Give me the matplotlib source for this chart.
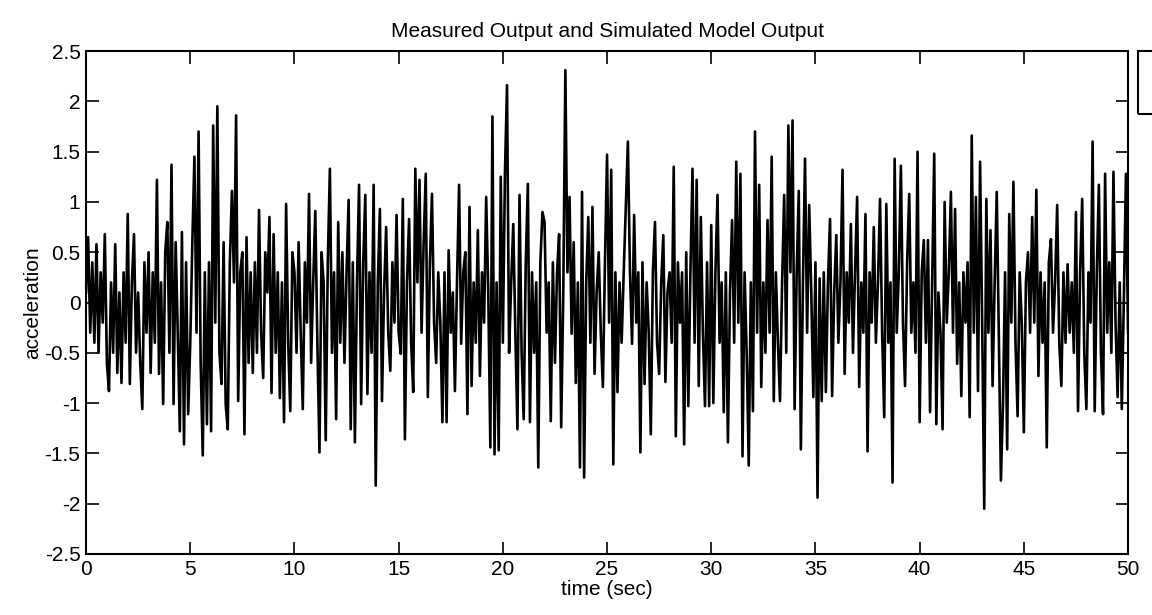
import numpy as np
import matplotlib
matplotlib.use("Agg")
import matplotlib.pyplot as plt
from matplotlib.patches import Rectangle

plt.rcParams['font.family'] = ['Liberation Sans', 'DejaVu Sans']

# acceleration, one value every 0.1 s (rows = 1 s)
acc = [
    0.1, 0.65, -0.3, 0.4, -0.4, 0.58, -0.5, 0.3, -0.2, 0.68,
    -0.6, -0.88, 0.2, -0.5, 0.58, -0.7, 0.1, -0.8, 0.3, -0.4,
    0.88, -0.81, 0.2, 0.68, -0.5, 0.1, -0.6, -1.06, 0.4, -0.3,
    0.5, -0.7, 0.3, -0.4, 1.22, -0.71, 0.2, -1.01, 0.5, 0.8,
    -0.5, 1.37, -1.01, 0.6, -0.3, -1.28, 0.7, -1.41, 0.4, -1.11,
    -0.4, 0.6, 1.45, -0.3, 1.70, -0.6, -1.52, 0.3, -1.21, 0.4,
    -1.28, 1.76, -0.2, 1.95, -0.5, -0.81, 0.6, -1.01, -1.26, 0.4,
    1.11, 0.2, 1.86, -0.98, 0.3, 0.5, -1.31, 0.65, -0.6, 0.3,
    -0.7, 0.4, -0.5, 0.92, -0.3, -0.75, 0.5, 0.1, 0.85, -0.9,
    0.68, -0.5, 0.3, -0.95, 0.2, -1.19, 0.98, -0.4, -1.08, 0.5,
    0.3, -0.5, 0.6, -0.3, -1.06, 0.4, -0.2, 1.08, -0.6, 0.2,
    0.91, -0.4, -1.49, 0.5, 0.2, -1.37, 0.4, 1.33, -0.5, 0.3,
    -1.16, 0.8, -0.4, 0.5, -0.6, 0.3, 1.02, -1.26, 0.4, -1.39,
    0.2, 1.17, -1.01, 0.4, 1.07, -0.91, 0.3, -0.5, 1.17, -1.82,
    0.2, 0.93, -0.98, 0.1, 0.75, -0.3, -0.68, 0.4, -0.2, 0.87,
    -0.3, -0.51, 1.03, -1.36, 0.2, 0.83, -0.4, -0.89, 1.33, 0.2,
    1.22, -0.3, 0.6, 1.28, -0.94, 0.4, 1.08, -0.2, -0.6, 0.3,
    -0.2, -1.19, 0.3, -1.19, 0.52, -0.3, 0.1, -0.88, 0.2, 1.17,
    -0.41, 0.3, 0.5, -1.11, 0.95, -0.83, 0.2, -0.4, 0.72, -0.73,
    0.3, -0.2, 1.05, 0.1, -1.44, 1.85, -1.51, 0.2, -1.47, 1.25,
    -0.4, 1.28, 2.16, -0.5, 0.2, 0.78, -0.3, -1.26, 1.07, -0.5,
    -1.16, 0.4, 1.18, -1.19, 0.3, -0.5, 0.2, -1.64, 0.4, 0.9,
    0.8, -0.3, 0.2, -1.18, 0.4, -0.6, 0.3, 0.68, -1.24, 0.1,
    2.31, 0.3, 1.05, -0.31, 0.6, -0.8, 0.2, -1.64, 1.1, -1.74,
    0.2, 0.85, -0.4, 0.95, -0.71, 0.1, 0.5, -0.3, -0.84, 0.4,
    1.47, -0.2, 1.32, -1.61, 0.3, -0.89, 0.2, -0.4, 0.3, 0.95,
    1.6, 0.3, -0.41, 0.87, -0.2, 0.3, -1.49, 0.4, -0.81, 0.2,
    -0.3, -1.31, 0.3, 0.8, -0.4, -0.71, 0.2, 0.67, -0.79, 0.1,
    0.3, -0.4, 1.35, -1.33, 0.4, -0.2, 0.3, -1.41, 0.5, -1.03,
    0.3, 1.33, -0.4, 1.22, -0.83, 0.85, -0.3, -1.03, 0.4, -1.03,
    0.77, -1.0, 0.3, 1.07, -0.4, 0.2, -1.09, 0.3, -1.39, 0.1,
    0.82, -0.4, 1.40, -0.2, 1.28, -1.53, 0.3, -0.5, -1.62, 0.2,
    -1.08, 1.70, -0.3, 1.17, -0.84, 0.2, -0.5, 0.82, -0.3, 1.45,
    -0.98, 0.3, -0.4, -0.98, 0.2, 1.07, -0.5, 1.76, 0.3, 1.81,
    -1.06, 0.3, 1.11, -1.46, 0.2, 1.43, -0.3, 0.97, 0.1, -0.94,
    0.4, -1.94, 0.24, -0.98, 0.3, -0.89, 0.2, 0.83, -0.93, 0.1,
    0.67, -0.4, 0.2, 1.32, -0.71, 0.3, -0.2, 0.78, -0.5, 0.3,
    1.05, -0.84, 0.2, -0.3, 0.88, -1.48, 0.3, -0.2, 0.75, -0.4,
    0.2, 1.03, -0.3, -1.14, 0.98, -0.4, 0.2, -1.79, 1.43, -0.3,
    0.3, 1.36, -0.2, -0.83, 0.4, 1.08, -0.3, 0.2, -0.5, 1.5,
    -1.19, 0.3, 0.62, -0.4, 0.62, -1.09, 0.2, 1.48, -1.21, 0.1,
    -0.3, -1.26, 1.0, -0.2, 0.3, 1.1, -0.3, 0.93, -0.61, 0.2,
    -0.93, 0.3, -0.2, 0.4, -1.14, 1.66, -0.3, 1.05, -0.88, 1.40,
    -0.2, -2.05, 1.03, -0.3, 0.72, -0.83, 0.2, 1.1, -0.3, -1.77,
    -1.0, 0.3, -1.46, 0.88, -0.2, 1.2, -0.4, -1.13, 0.3, -0.2,
    -1.29, 0.2, 0.50, -0.3, 0.85, -0.2, 1.12, -0.73, 0.3, -0.4,
    0.2, -1.44, 0.4, 0.63, -0.3, 0.2, 0.97, -0.4, -0.83, 0.3,
    -0.4, 0.38, -0.3, 0.2, -0.5, 0.9, -1.08, 0.3, 1.03, -0.5,
    -1.06, 0.3, -0.2, 1.6, -1.08, 0.3, 1.17, -0.5, -1.11, 1.28,
    -0.3, 0.4, -0.5, 1.3, -0.2, -0.94, 0.2, -1.06, 0.04, 1.28,
    -0.3,
]
time = np.arange(len(acc)) * 0.1

xticks = [0, 5, 10, 15, 20, 25, 30, 35, 40, 45, 50]
yticks = [-2.5, -2, -1.5, -1, -0.5, 0, 0.5, 1, 1.5, 2, 2.5]
ylabels = ['-2.5', '-2', '-1.5', '-1', '-0.5', '0', '0.5', '1', '1.5', '2', '2.5']

fig = plt.figure(figsize=(11.52, 6.15), dpi=100)
ax = fig.add_axes([0.0747, 0.0992, 0.9045, 0.8178])

ax.plot(time, acc, color='black', lw=1.9)

ax.set_xlim(0, 50)
ax.set_ylim(-2.5, 2.5)
ax.set_xticks(xticks)
ax.set_yticks(yticks)
ax.set_yticklabels(ylabels)
ax.tick_params(direction='in', length=9, width=1.2, top=True, right=True,
               labelsize=15, pad=4)
for s in ax.spines.values():
    s.set_linewidth(1.5)

ax.set_title('Measured Output and Simulated Model Output', fontsize=15, pad=10)
ax.set_xlabel('time (sec)', fontsize=15, labelpad=1)
ax.set_ylabel('acceleration', fontsize=15, labelpad=2)

# legend box cut off at the right edge
fig.patches.append(Rectangle((1138 / 1152, 1 - 114 / 615), 0.05, 63 / 615,
                             transform=fig.transFigure, fill=False,
                             lw=1.5, edgecolor='black'))

fig.savefig('out.png', dpi=100)
